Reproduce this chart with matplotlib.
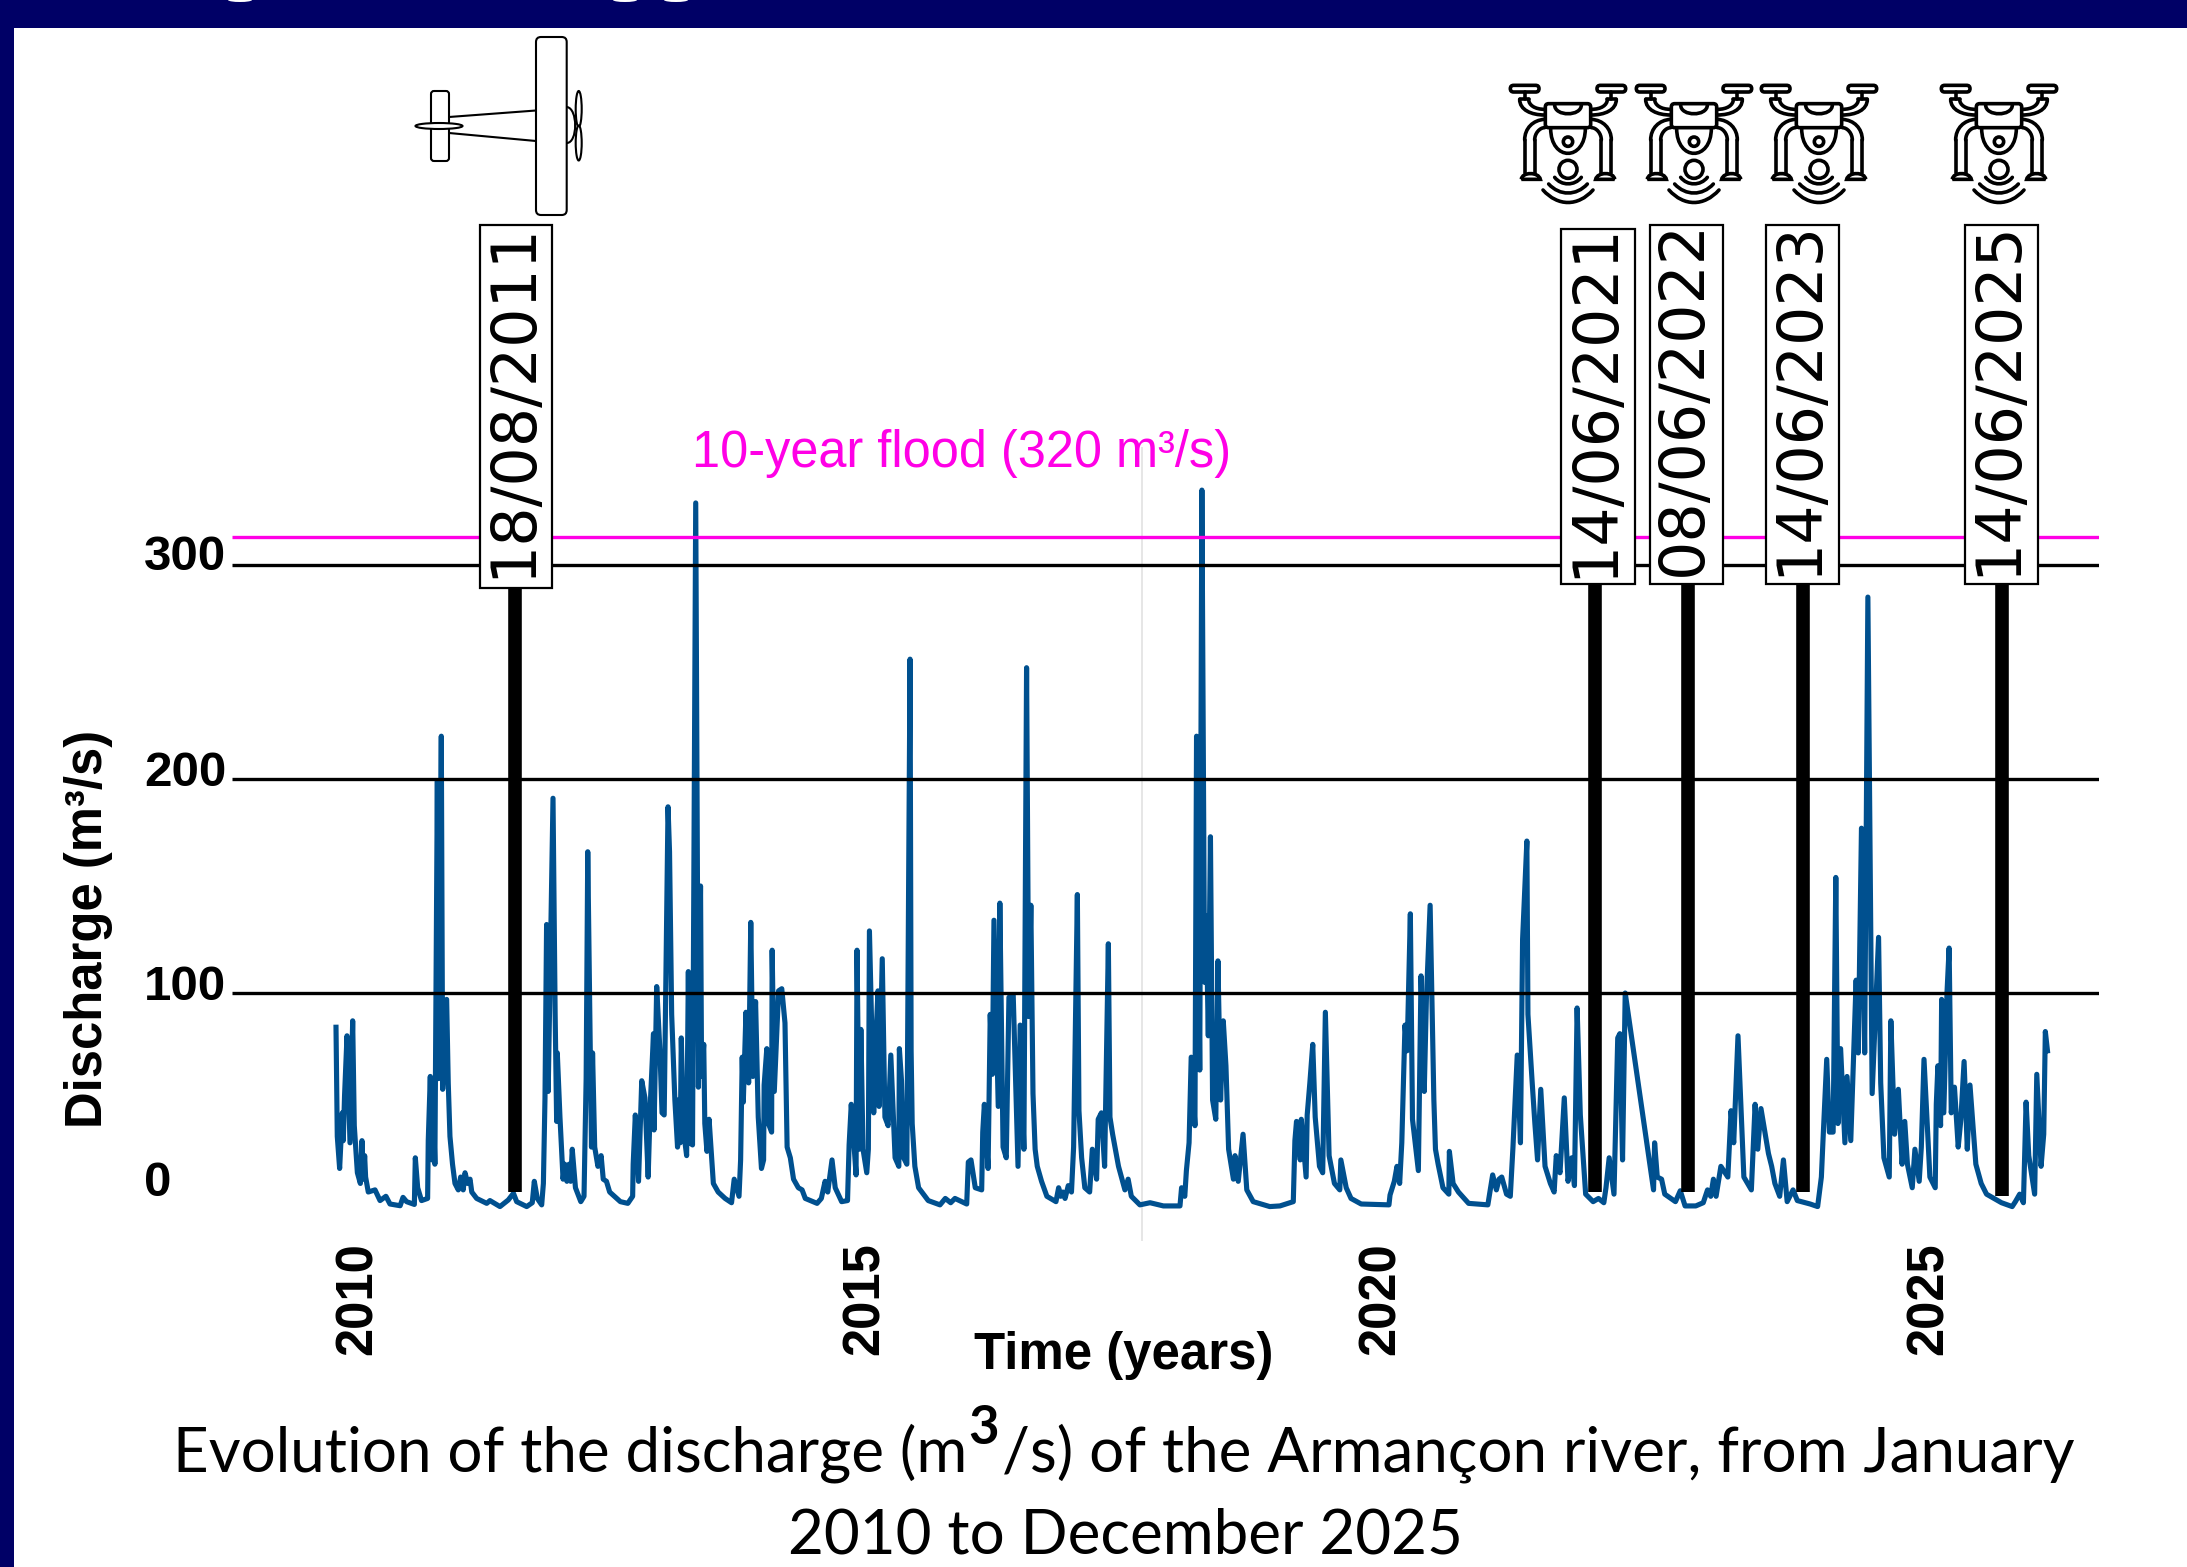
import matplotlib
matplotlib.use("Agg")
import matplotlib.pyplot as plt
from matplotlib.patches import Rectangle, FancyBboxPatch, Ellipse, Circle, PathPatch
from matplotlib.path import Path
from matplotlib.transforms import Affine2D

# discharge, one pair of lists per year
t_2010 = [2010.00, 2010.012, 2010.034, 2010.059, 2010.068, 2010.08, 2010.103, 2010.131, 2010.156, 2010.171, 2010.2, 2010.228, 2010.243, 2010.256, 2010.268, 2010.277, 2010.302, 2010.365, 2010.412, 2010.467, 2010.505, 2010.6, 2010.627, 2010.66, 2010.733, 2010.742, 2010.764, 2010.8, 2010.857, 2010.863, 2010.882, 2010.898, 2010.91, 2010.925, 2010.948, 2010.96, 2010.985, 2010.998]
q_2010 = [84, 33, 18, 44, 31, 52, 80, 30, 87, 38, 16, 11, 31, 13, 24, 14, 7, 8, 3, 5, 1.4, 0.6, 4.5, 2.5, 1.2, 23, 9, 3, 4, 31, 61, 22, 48, 20, 199, 60, 220, 55]
t_2011 = [2011.035, 2011.05, 2011.066, 2011.09, 2011.113, 2011.144, 2011.166, 2011.19, 2011.207, 2011.232, 2011.254, 2011.27, 2011.316, 2011.41, 2011.44, 2011.534, 2011.612, 2011.66, 2011.69, 2011.784, 2011.836, 2011.855, 2011.883, 2011.924, 2011.94, 2011.955, 2011.97, 2011.985]
q_2011 = [97, 58, 33, 20, 11, 8, 14, 8, 16, 11, 13, 7, 4, 1.7, 3, 0.2, 3.3, 6.4, 2.5, 0.2, 2, 12, 4, 1, 11, 51, 132, 54]
t_2012 = [2012.03, 2012.05, 2012.064, 2012.07, 2012.095, 2012.124, 2012.14, 2012.16, 2012.18, 2012.195, 2012.21, 2012.24, 2012.29, 2012.32, 2012.34, 2012.355, 2012.39, 2012.40, 2012.42, 2012.45, 2012.48, 2012.5, 2012.53, 2012.56, 2012.66, 2012.73, 2012.775, 2012.78, 2012.80, 2012.83, 2012.86, 2012.89, 2012.92, 2012.94, 2012.97, 2012.975]
q_2012 = [191, 90, 40, 72, 42, 13, 20, 12, 20, 12, 27, 9, 2.5, 5, 60, 166, 28, 72, 28, 19, 24, 13, 12, 7, 2.5, 1.7, 5, 20, 43, 12, 59, 51, 14, 48, 81, 36]
t_2013 = [2013.0, 2013.03, 2013.05, 2013.07, 2013.106, 2013.12, 2013.14, 2013.17, 2013.195, 2013.2, 2013.22, 2013.23, 2013.25, 2013.28, 2013.296, 2013.31, 2013.335, 2013.365, 2013.39, 2013.41, 2013.42, 2013.44, 2013.45, 2013.47, 2013.49, 2013.515, 2013.53, 2013.575, 2013.64, 2013.70, 2013.725, 2013.77, 2013.785, 2013.80, 2013.81, 2013.835, 2013.86, 2013.88, 2013.90, 2013.925, 2013.95, 2013.98]
q_2013 = [103, 73, 44, 43, 187, 166, 90, 50, 28, 50, 30, 79, 36, 24, 110, 30, 29, 329, 56, 150, 61, 76, 39, 26, 41, 22, 11, 7, 4, 2, 13, 5, 22, 70, 49, 91, 58, 133, 61, 96, 42, 18]
t_2014 = [2014.0, 2014.005, 2014.03, 2014.045, 2014.075, 2014.08, 2014.10, 2014.14, 2014.17, 2014.2, 2014.22, 2014.25, 2014.28, 2014.325, 2014.36, 2014.39, 2014.5, 2014.54, 2014.575, 2014.6, 2014.64, 2014.67, 2014.73, 2014.785, 2014.80, 2014.82, 2014.865, 2014.874, 2014.895, 2014.91, 2014.93, 2014.965, 2014.98, 2014.99]
q_2014 = [22, 57, 74, 39, 35, 120, 54, 101, 102, 86, 28, 23, 13, 9, 8, 4, 1.7, 4, 12, 7, 22, 9, 2.5, 3, 29, 48, 15, 120, 27, 83, 27, 16, 27, 129]
t_2015 = [2015.03, 2015.045, 2015.07, 2015.08, 2015.11, 2015.135, 2015.165, 2015.19, 2015.23, 2015.265, 2015.27, 2015.29, 2015.31, 2015.34, 2015.37, 2015.38, 2015.39, 2015.415, 2015.45, 2015.48, 2015.54, 2015.65, 2015.70, 2015.75, 2015.79, 2015.90, 2015.915, 2015.94, 2015.98]
q_2015 = [44, 72, 101, 47, 116, 42, 38, 71, 23, 19, 74, 59, 23, 20, 256, 73, 39, 19, 9, 7, 3, 1, 4, 2, 4, 1.4, 21, 22, 9]
t_2016 = [2016.04, 2016.05, 2016.065, 2016.10, 2016.12, 2016.14, 2016.155, 2016.195, 2016.21, 2016.24, 2016.27, 2016.295, 2016.335, 2016.38, 2016.40, 2016.435, 2016.46, 2016.48, 2016.50, 2016.52, 2016.54, 2016.56, 2016.6, 2016.65, 2016.735, 2016.76, 2016.78, 2016.80, 2016.82, 2016.85, 2016.88, 2016.90, 2016.935, 2016.95, 2016.975]
q_2016 = [8, 35, 48, 18, 90, 62, 134, 47, 142, 28, 23, 98, 99, 19, 85, 27, 252, 89, 141, 53, 27, 19, 12, 5, 2.5, 9, 5, 7, 4, 10, 7, 28, 146, 45, 23]
t_2017 = [2017.005, 2017.05, 2017.075, 2017.115, 2017.13, 2017.16, 2017.19, 2017.225, 2017.24, 2017.265, 2017.32, 2017.38, 2017.41, 2017.44, 2017.52, 2017.615, 2017.74, 2017.895, 2017.91, 2017.94, 2017.955, 2017.98]
q_2017 = [9, 7, 27, 13, 41, 44, 19, 123, 42, 34, 19, 8, 13, 5, 1, 2, 0.5, 0.5, 9, 5, 17, 30]
t_2018 = [2018.0, 2018.035, 2018.05, 2018.08, 2018.10, 2018.125, 2018.14, 2018.16, 2018.18, 2018.20, 2018.23, 2018.25, 2018.275, 2018.30, 2018.325, 2018.35, 2018.395, 2018.41, 2018.44, 2018.485, 2018.52, 2018.58, 2018.735, 2018.83, 2018.955, 2018.97, 2018.985]
q_2018 = [70, 38, 220, 64, 335, 105, 136, 80, 173, 50, 41, 115, 50, 87, 66, 27, 13, 24, 12, 34, 8, 2.5, 0.2, 0.5, 2.5, 31, 40]
t_2019 = [2019.02, 2019.03, 2019.075, 2019.085, 2019.11, 2019.137, 2019.16, 2019.2, 2019.23, 2019.255, 2019.29, 2019.34, 2019.39, 2019.4, 2019.45, 2019.495, 2019.59, 2019.85, 2019.86, 2019.9, 2019.925, 2019.95, 2019.97]
q_2019 = [22, 41, 14, 43, 58, 76, 42, 19, 16, 91, 24, 11, 8, 22, 9, 4, 1.4, 1, 5.6, 12, 19, 11, 30]
t_2020 = [2020.0, 2020.02, 2020.05, 2020.07, 2020.125, 2020.15, 2020.18, 2020.2, 2020.235, 2020.27, 2020.285, 2020.31, 2020.355, 2020.41, 2020.415, 2020.45, 2020.5, 2020.595, 2020.775, 2020.82, 2020.855, 2020.88, 2020.905, 2020.95, 2020.985]
q_2020 = [85, 73, 137, 41, 17, 108, 54, 97, 141, 50, 27, 20, 9, 6, 26, 11, 7, 1.7, 1, 15, 8, 13, 14, 6, 5]
t_2021 = [2021.01, 2021.05, 2021.08, 2021.10, 2021.14, 2021.15, 2021.19, 2021.215, 2021.24, 2021.27, 2021.31, 2021.36, 2021.395, 2021.415, 2021.45, 2021.49, 2021.525, 2021.56, 2021.585, 2021.61, 2021.64, 2021.69, 2021.76, 2021.81, 2021.86, 2021.88, 2021.91, 2021.955, 2021.99]
q_2021 = [28, 71, 30, 125, 171, 90, 58, 39, 22, 55, 19, 11, 7, 24, 16, 51, 12, 23, 10, 93, 43, 6, 2.5, 4, 2, 9, 23, 6, 79]
t_2022 = [2022.01, 2022.035, 2022.06, 2022.325, 2022.335, 2022.36, 2022.40, 2022.43, 2022.53, 2022.575, 2022.62, 2022.72, 2022.79, 2022.83, 2022.86, 2022.885, 2022.91, 2022.955]
q_2022 = [81, 22, 100, 8, 30, 14, 13, 6, 2.5, 7.6, 0.5, 0.5, 2, 8, 5, 13, 5, 19]
t_2023 = [2023.02, 2023.05, 2023.075, 2023.115, 2023.17, 2023.24, 2023.275, 2023.30, 2023.33, 2023.36, 2023.4, 2023.43, 2023.46, 2023.505, 2023.54, 2023.575, 2023.63, 2023.67, 2023.79, 2023.86, 2023.895, 2023.91, 2023.945, 2023.97]
q_2023 = [14, 45, 30, 80, 14, 8, 48, 27, 46, 37, 25, 19, 11, 5, 22, 2.5, 8, 3, 1.4, 0.2, 14, 31, 69, 35]
t_2024 = [2024.005, 2024.03, 2024.05, 2024.075, 2024.115, 2024.135, 2024.17, 2024.195, 2024.22, 2024.24, 2024.27, 2024.30, 2024.33, 2024.37, 2024.43, 2024.45, 2024.48, 2024.53, 2024.545, 2024.58, 2024.615, 2024.65, 2024.675, 2024.70, 2024.745, 2024.77, 2024.81, 2024.83, 2024.855, 2024.91, 2024.96, 2024.97, 2024.985]
q_2024 = [35, 154, 39, 74, 30, 61, 31, 68, 106, 72, 177, 72, 285, 53, 126, 58, 23, 14, 87, 34, 55, 20, 40, 20, 9, 27, 12, 28, 69, 14, 9, 48, 66]
t_2025 = [2025.01, 2025.02, 2025.04, 2025.07, 2025.09, 2025.11, 2025.14, 2025.175, 2025.2, 2025.23, 2025.26, 2025.285, 2025.34, 2025.39, 2025.44, 2025.58, 2025.68, 2025.71, 2025.75, 2025.785, 2025.81, 2025.835, 2025.89, 2025.91, 2025.95, 2025.975, 2025.99, 2026.01]
q_2025 = [38, 97, 44, 100, 121, 44, 56, 28, 41, 68, 27, 57, 20, 11, 6, 2, 0.2, 2.5, 6, 2, 49, 24, 6, 62, 19, 34, 82, 73]

time_years = t_2010 + t_2011 + t_2012 + t_2013 + t_2014 + t_2015 + t_2016 + t_2017 + t_2018 + t_2019 + t_2020 + t_2021 + t_2022 + t_2023 + t_2024 + t_2025
discharge = q_2010 + q_2011 + q_2012 + q_2013 + q_2014 + q_2015 + q_2016 + q_2017 + q_2018 + q_2019 + q_2020 + q_2021 + q_2022 + q_2023 + q_2024 + q_2025

survey_dates = ["18/08/2011", "14/06/2021", "08/06/2022", "14/06/2023", "14/06/2025"]
survey_pos = [2011.67, 2021.78, 2022.65, 2023.72, 2025.58]
survey_base = [7, 7, 7, 7, 5]

grid_levels = [100, 200, 300]
flood_level = 313
year_labels = ["2010", "2015", "2020", "2025"]
year_pos = [2010.205, 2014.955, 2019.775, 2024.905]

W, H = 2187, 1567
NAVY = "#000066"
BLUE = "#00508f"
SANS = "Liberation Sans"

fig = plt.figure(figsize=(W / 100, H / 100), dpi=100, facecolor="white")
# picture pixels, y going down
to_px = Affine2D().scale(1, -1).translate(0, H)


def px_box(left, top, right, bottom):
    return [left / W, 1 - bottom / H, (right - left) / W, (bottom - top) / H]


ax = fig.add_axes(px_box(232, 30, 2099, 1240))
ax.set_xlim(2010 + (232 - 336) / 106.9, 2010 + (2099 - 336) / 106.9)
ax.set_ylim((1207 - 1240) / 2.14, (1207 - 30) / 2.14)
for s in ax.spines.values():
    s.set_visible(False)

ax.plot(time_years, discharge, color=BLUE, lw=3.7, solid_joinstyle="round", zorder=2)
ax.hlines(grid_levels, *ax.get_xlim(), color="black", lw=2.4, zorder=3)
ax.hlines(flood_level, *ax.get_xlim(), color="#ff00e6", lw=2.4, zorder=3)
ax.vlines(2017.54, -16, 355, color="#e6e6e6", lw=1.4, zorder=1, clip_on=False)
ax.vlines(survey_pos, survey_base, 300, color="black", lw=9.8, capstyle="butt", zorder=4)

ax.set_yticks([])
ax.set_xticks(year_pos, year_labels, rotation=90, fontsize=36.5, fontweight="bold", fontfamily=SANS)
ax.tick_params(axis="x", length=0, pad=1.5)


def label(x, y, s, **kw):
    kw.setdefault("family", SANS)
    kw.setdefault("ha", "center")
    kw.setdefault("va", "center")
    return fig.text(x, y, s, transform=to_px, **kw)


for y, s in [(1184, "0"), (988, "100"), (774, "200"), (558, "300")]:
    label(144, y, s, ha="left", fontsize=35.5, fontweight="bold")
label(89, 929, "Discharge (m³/s)", rotation=90, fontsize=36.5, fontweight="bold")
label(1124, 1355, "Time (years)", fontsize=36.7, fontweight="bold")
label(962, 453, "10-year flood (320 m³/s)", fontsize=36.4, color="#ff00e6")

# caption, the exponent is larger than a normal superscript
label(967, 1453, "Evolution of the discharge (m", ha="right", family="Lato", fontsize=44.6)
label(984, 1428, "3", family="Lato", fontweight="bold", fontsize=38)
label(1002, 1453, "/s) of the Armançon river, from January", ha="left", family="Lato", fontsize=44.6)
label(1125, 1536, "2010 to December 2025", family="Lato", fontsize=44.6)


def add_px(patch):
    patch.set_transform(to_px)
    fig.add_artist(patch)


# date boxes on top of the bars
box_rects = [(480, 224.6, 72, 363), (1561, 229, 74, 355), (1650, 225, 73, 359), (1766, 225, 73, 359), (1965, 225, 73, 359)]
for (left, top, w, h), s in zip(box_rects, survey_dates):
    add_px(Rectangle((left, top), w, h, fc="white", ec="black", lw=1.6, zorder=5))
    label(left + w / 2 - 3, top + h / 2 - 6, s, family="DejaVu Sans", rotation=90, fontsize=44.5, zorder=6)

# dark frame of the slide behind the chart
for rect in [(0, 0, W, 28), (0, 0, 14, H)]:
    add_px(Rectangle(rect[:2], rect[2], rect[3], fc=NAVY, ec="none"))
for x in [240, 625, 676]:
    add_px(Ellipse((x, 0), 24, 4, fc="white", ec="none"))


def plane():
    lw = 1.5
    kw = dict(fc="white", ec="black", lw=lw)
    add_px(FancyBboxPatch((536, 37), 30.7, 178, boxstyle="round,pad=0,rounding_size=5", **kw))
    add_px(FancyBboxPatch((431, 91), 18, 70, boxstyle="round,pad=0,rounding_size=3", **kw))
    add_px(PathPatch(Path([(449, 117), (536, 110.5)]), fc="none", ec="black", lw=lw))
    add_px(PathPatch(Path([(449, 133), (536, 141)]), fc="none", ec="black", lw=lw))
    add_px(Ellipse((439, 126), 47, 6, **kw))
    nose = Path([(566.7, 107), (578, 108), (578, 143), (566.7, 143)],
                [Path.MOVETO, Path.CURVE4, Path.CURVE4, Path.CURVE4])
    add_px(PathPatch(nose, fc="none", ec="black", lw=lw))
    add_px(Ellipse((578.7, 109), 6, 36, **kw))
    add_px(Ellipse((578.7, 143), 6, 35, **kw))


plane()

M, L, C = Path.MOVETO, Path.LINETO, Path.CURVE4
# left half of the drone, in zoomed units relative to its axis
LEFT_HALF = [
    ([(-130, 96), (-130, 118)], [M, L]),
    ([(-145, 118), (-118, 118)], [M, L]),
    ([(-145, 118), (-145, 150), (-110, 165), (-70, 165)], [M, C, C, C]),
    ([(-118, 118), (-118, 135), (-100, 148), (-70, 148)], [M, C, C, C]),
    ([(-70, 178), (-105, 180), (-130, 205), (-130, 240)], [M, C, C, C]),
    ([(-70, 203), (-85, 203), (-100, 220), (-100, 240)], [M, C, C, C]),
    ([(-130, 240), (-130, 340)], [M, L]),
    ([(-100, 240), (-100, 340)], [M, L]),
]
CENTRE = [
    ([(-40, 135), (-40, 170), (40, 170), (40, 135)], [M, C, C, C]),
    ([(-52, 205), (-52, 305), (52, 305), (52, 205)], [M, C, C, C]),
    ([(-40, 352), (-20, 378), (20, 378), (40, 352)], [M, C, C, C]),
    ([(-58, 372), (-25, 408), (25, 408), (58, 372)], [M, C, C, C]),
    ([(-75, 390), (-30, 440), (30, 440), (75, 390)], [M, C, C, C]),
]
FOOT = [(-140, 358), (-138, 335), (-88, 335), (-83, 358), (-140, 358)]


def drone(cx):
    tr = Affine2D().scale(1 / 3).translate(cx, 60) + to_px
    lw = 2.6

    def put(patch):
        patch.set_transform(tr)
        fig.add_artist(patch)

    for side in (-1, 1):
        put(FancyBboxPatch((side * 130 - 43, 76), 86, 20, boxstyle="round,pad=0,rounding_size=10",
                           fc="white", ec="black", lw=lw))
        for pts, codes in LEFT_HALF:
            put(PathPatch(Path([(-side * x, y) for x, y in pts], codes),
                          fc="none", ec="black", lw=lw, capstyle="round"))
        put(PathPatch(Path([(-side * x, y) for x, y in FOOT], [M, C, C, C, L]),
                      fc="white", ec="black", lw=lw))
    put(FancyBboxPatch((-68, 131), 136, 72, boxstyle="round,pad=0,rounding_size=10",
                       fc="white", ec="black", lw=lw))
    for pts, codes in CENTRE:
        put(PathPatch(Path(pts, codes), fc="none", ec="black", lw=lw, capstyle="round"))
    put(Circle((0, 245), 14, fc="none", ec="black", lw=lw))
    put(Circle((0, 328), 27, fc="none", ec="black", lw=lw))


for cx in [1568, 1694, 1819, 1999]:
    drone(cx)

fig.savefig("out.png", dpi=100)
